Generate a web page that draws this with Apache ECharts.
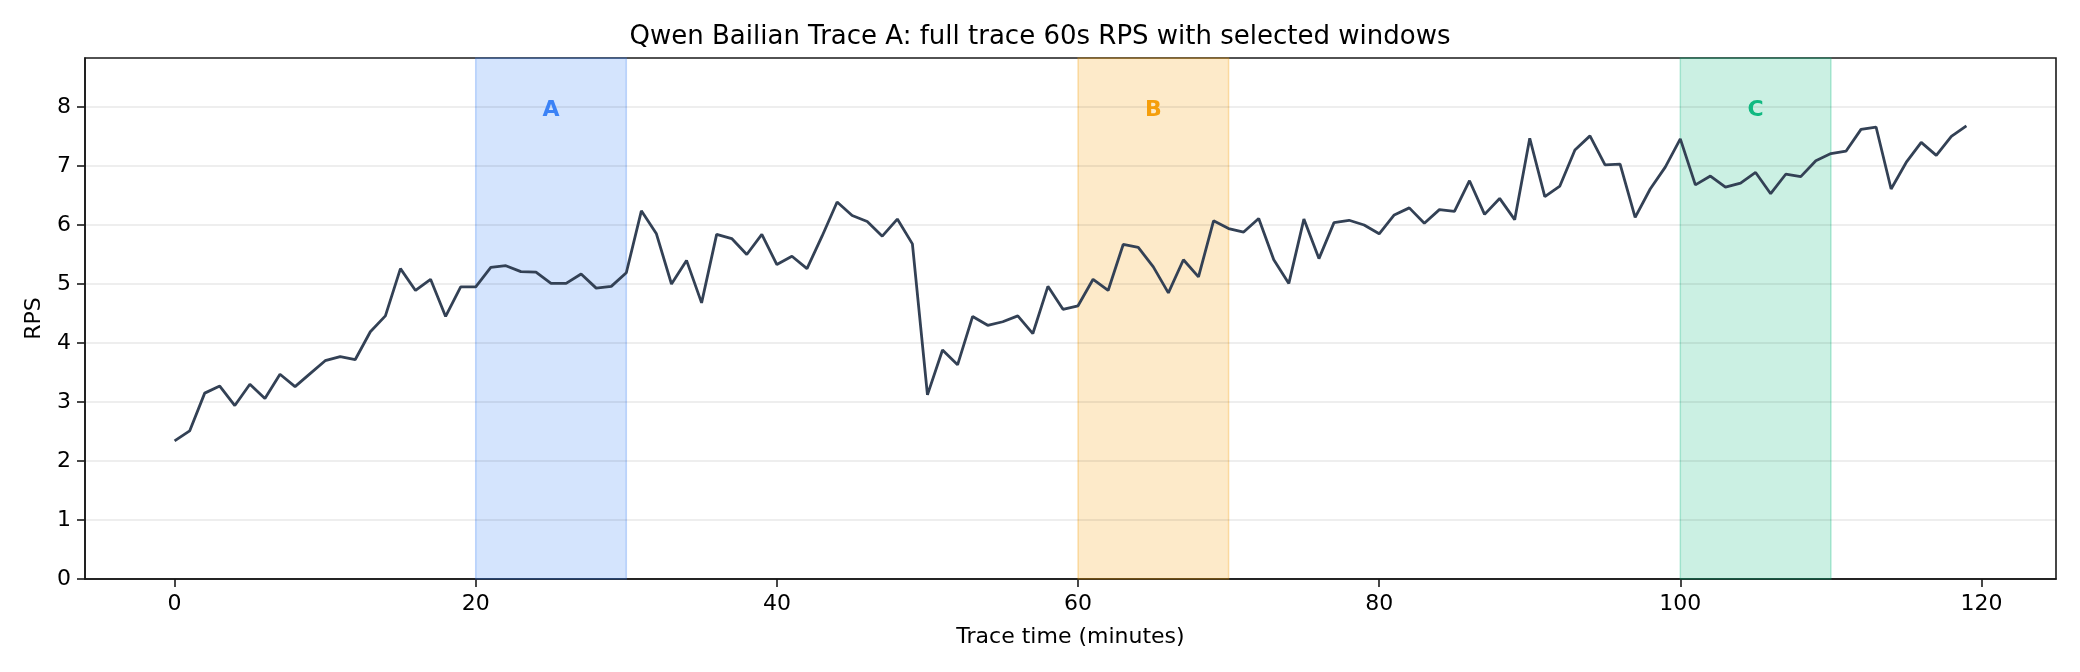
<!DOCTYPE html>
<html>
<head>
<meta charset="utf-8">
<script src="https://cdn.jsdelivr.net/npm/echarts@6/dist/echarts.min.js"></script>
<style>
  html, body { margin: 0; padding: 0; background: #fff; }
  #chart { width: 2080px; height: 672px; }
</style>
</head>
<body>
<div id="chart"></div>
<script>
// 60s RPS per minute of the trace (minute index = position)
var rps = [
    2.34, 2.51, 3.15, 3.27, 2.94, 3.30, 3.06, 3.47, 3.26, 3.48,
    3.70, 3.77, 3.72, 4.19, 4.46, 5.26, 4.89, 5.08, 4.45, 4.95,
    4.95, 5.28, 5.31, 5.21, 5.20, 5.01, 5.01, 5.17, 4.93, 4.96,
    5.19, 6.24, 5.85, 5.00, 5.40, 4.68, 5.84, 5.77, 5.50, 5.84,
    5.33, 5.47, 5.26, 5.81, 6.39, 6.16, 6.06, 5.81, 6.10, 5.68,
    3.12, 3.88, 3.63, 4.45, 4.30, 4.36, 4.46, 4.16, 4.96, 4.57,
    4.63, 5.08, 4.89, 5.67, 5.62, 5.29, 4.85, 5.41, 5.12, 6.07,
    5.94, 5.88, 6.11, 5.41, 5.01, 6.10, 5.43, 6.04, 6.08, 6.00,
    5.85, 6.17, 6.29, 6.03, 6.26, 6.23, 6.75, 6.18, 6.45, 6.09,
    7.47, 6.48, 6.66, 7.27, 7.51, 7.02, 7.03, 6.13, 6.61, 6.98,
    7.46, 6.68, 6.83, 6.64, 6.71, 6.89, 6.53, 6.86, 6.82, 7.09,
    7.21, 7.25, 7.62, 7.66, 6.61, 7.06, 7.40, 7.18, 7.50, 7.68
];

// selected windows (minutes)
var windowNames = ['A', 'B', 'C'];
var windowStart = [20, 60, 100];
var windowEnd = [30, 70, 110];

var xTicks = [0, 20, 40, 60, 80, 100, 120];
var yTicks = [0, 1, 2, 3, 4, 5, 6, 7, 8];
var xMin = -5.95, xMax = 124.95;
var yMax = 8.83;

var windowColors = ['59,130,246', '245,158,11', '16,185,129'];
var FONT = 'DejaVu Sans';

var chart = echarts.init(document.getElementById('chart'));

var lineData = rps.map(function (v, i) { return [i, v]; });

var areas = windowNames.map(function (n, i) {
    var c = windowColors[i];
    return [
        { xAxis: windowStart[i], itemStyle: { color: 'rgba(' + c + ',0.22)', borderColor: 'rgba(' + c + ',0.3)', borderWidth: 1.5 } },
        { xAxis: windowEnd[i] }
    ];
});

var labelData = windowNames.map(function (n, i) {
    return {
        value: [(windowStart[i] + windowEnd[i]) / 2, yMax * 0.9],
        name: n,
        label: { color: 'rgb(' + windowColors[i] + ')' }
    };
});

var option = {
    animation: false,
    backgroundColor: '#fff',
    title: {
        text: 'Qwen Bailian Trace A: full trace 60s RPS with selected windows',
        left: 'center',
        top: 19,
        textStyle: { fontFamily: FONT, fontSize: 26, fontWeight: 'normal', color: '#000' }
    },
    grid: {
        left: 85, right: 24, top: 58, bottom: 93,
        show: true, borderColor: '#1a1a1a', borderWidth: 1.6, backgroundColor: 'transparent'
    },
    xAxis: {
        type: 'value',
        min: xMin, max: xMax,
        name: 'Trace time (minutes)',
        nameLocation: 'middle',
        nameGap: 47,
        nameTextStyle: { fontFamily: FONT, fontSize: 22, color: '#000' },
        axisLine: { show: true, onZero: false, lineStyle: { color: '#1a1a1a', width: 1.6 } },
        axisTick: { show: true, length: 8, lineStyle: { color: '#1a1a1a', width: 1.6 }, customValues: xTicks },
        axisLabel: { fontFamily: FONT, fontSize: 22, color: '#000', margin: 14, customValues: xTicks },
        splitLine: { show: false }
    },
    yAxis: {
        type: 'value',
        min: 0, max: yMax, interval: 1,
        z: 2,
        name: 'RPS',
        nameLocation: 'middle',
        nameGap: 40,
        nameTextStyle: { fontFamily: FONT, fontSize: 22, color: '#000' },
        axisLine: { show: true, onZero: false, lineStyle: { color: '#1a1a1a', width: 1.6 } },
        axisTick: { show: true, length: 8, lineStyle: { color: '#1a1a1a', width: 1.6 }, customValues: yTicks },
        axisLabel: { fontFamily: FONT, fontSize: 22, color: '#000', margin: 14, customValues: yTicks },
        splitLine: { show: true, lineStyle: { color: 'rgba(0,0,0,0.09)', width: 1.6 } }
    },
    series: [
        {
            type: 'line',
            name: 'windows',
            z: 1,
            data: [],
            markArea: { silent: true, data: areas }
        },
        {
            type: 'line',
            name: 'RPS',
            z: 3,
            data: lineData,
            showSymbol: false,
            symbol: 'none',
            lineStyle: { color: '#334155', width: 2.8 },
            itemStyle: { color: '#334155' }
        },
        {
            type: 'scatter',
            z: 4,
            symbolSize: 0,
            silent: true,
            data: labelData,
            label: {
                show: true,
                position: 'inside',
                formatter: '{b}',
                fontFamily: FONT,
                fontSize: 22,
                fontWeight: 'bold',
                textBorderWidth: 0,
                opacity: 1
            }
        }
    ]
};

chart.setOption(option);
</script>
</body>
</html>
